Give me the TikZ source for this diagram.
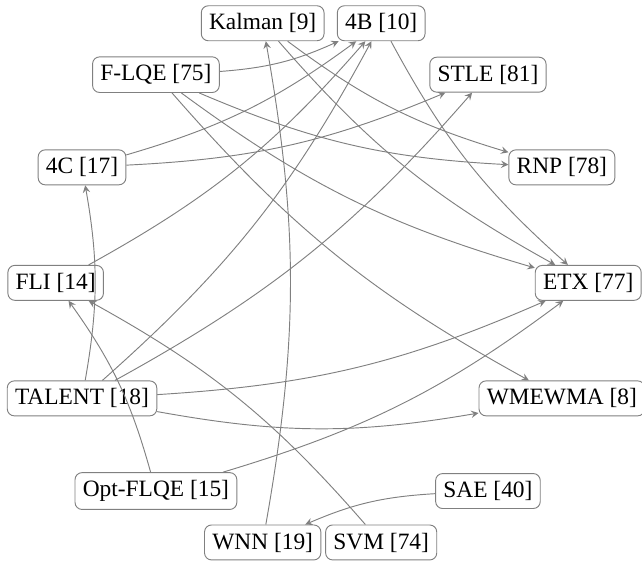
\documentclass[tikz,border=0pt]{standalone}
\usepackage{fontspec}
\setmainfont{Liberation Serif}

\tikzset{
  method/.style={draw=gray, rounded corners=3pt, font=\normalsize},
  link/.style={->, draw=gray, bend right=10}
}

\begin{document}
\begin{tikzpicture}[>=stealth]

  \useasboundingbox (-137.6pt,-118.8pt) rectangle (136.8pt,120.9pt);

  %%%%%%%%%%%%%%%%%%%%%%%%%%%%%%%%%%%%%%%%%%%%%%%%%
  % Estimators on a circle
  \node[method] (etx)     at (0:4cm)      {ETX [77]};
  \node[method] (rnp)     at (25.71:4cm)  {RNP [78]};
  \node[method] (stle)    at (51.43:4cm)  {STLE [81]};
  \node[method] (fourb)   at (77.14:4cm)  {4B [10]};
  \node[method] (kalman)  at (102.86:4cm) {Kalman [9]};
  \node[method] (flqe)    at (128.57:4cm) {F-LQE [75]};
  \node[method] (fourc)   at (154.29:4cm) {4C [17]};
  \node[method] (fli)     at (180:4cm)    {FLI [14]};
  \node[method] (talent)  at (205.71:4cm) {TALENT [18]};
  \node[method] (optflqe) at (231.43:4cm) {Opt-FLQE [15]};
  \node[method] (wnn)     at (257.14:4cm) {WNN [19]};
  \node[method] (svm)     at (282.86:4cm) {SVM [74]};
  \node[method] (sae)     at (308.57:4cm) {SAE [40]};
  \node[method] (wmewma)  at (334.29:4cm) {WMEWMA [8]};

  %%%%%%%%%%%%%%%%%%%%%%%%%%%%%%%%%%%%%%%%%%%%%%%%%
  % Comparisons
  \draw[link] (flqe) to (fourb);
  \draw[link] (flqe) to (rnp);
  \draw[link] (flqe) to (etx);
  \draw[link] (flqe) to (wmewma);

  \draw[link] (kalman) to (rnp);
  \draw[link] (kalman) to (etx);
  \draw[link] (fourb) to (etx);

  \draw[link] (fourc) to (fourb);
  \draw[link] (fourc) to (stle);
  \draw[link] (fli) to (fourb);

  \draw[link] (talent) to (fourc);
  \draw[link] (talent) to (fourb);
  \draw[link] (talent) to (stle);
  \draw[link] (talent) to (etx);
  \draw[link] (talent) to (wmewma);

  \draw[link] (optflqe) to (fli);
  \draw[link] (optflqe) to (etx);
  \draw[link] (wnn) to (kalman);
  \draw[link] (svm) to (fli);
  \draw[link] (sae) to (wnn);

\end{tikzpicture}
\end{document}
